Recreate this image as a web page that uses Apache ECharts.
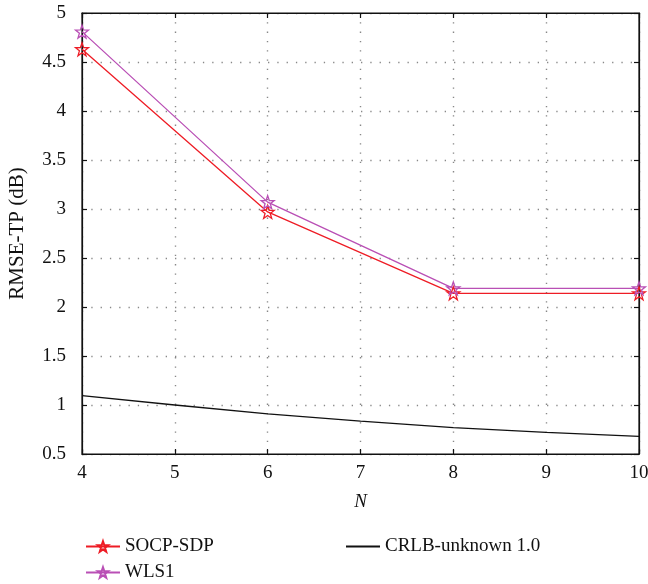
<!DOCTYPE html>
<html><head><meta charset="utf-8">
<script src="https://cdn.jsdelivr.net/npm/echarts@6/dist/echarts.min.js"></script>
<style>html,body{margin:0;padding:0;background:#fff}#c{width:648px;height:584px}</style>
</head><body><div id="c"></div>
<script>
const xSOCP = [4, 6, 8, 10];
const ySOCP = [4.63, 2.97, 2.14, 2.14];
const xWLS = [4, 6, 8, 10];
const yWLS = [4.81, 3.07, 2.19, 2.19];
const xCRLB = [4, 5, 6, 7, 8, 9, 10];
const yCRLB = [1.095, 1.0, 0.91, 0.835, 0.77, 0.72, 0.68];
const seriesNames = ['SOCP-SDP', 'WLS1', 'CRLB-unknown 1.0'];
const font = '"Liberation Serif", "DejaVu Serif", serif';
const pair = (xs, ys) => xs.map((x, i) => [x, ys[i]]);
const star = 'path://M0,-10 L2.35,-3.24 L9.51,-3.09 L3.8,1.24 L5.88,8.09 L0,4 L-5.88,8.09 L-3.8,1.24 L-9.51,-3.09 L-2.35,-3.24 Z';
const chart = echarts.init(document.getElementById('c'));
const gridLine = {show: true, lineStyle: {color: '#888', type: [1.3, 8], width: 1.4}};
const tick = {show: true, inside: true, length: 5, lineStyle: {color: '#111', width: 1.2}};
const legendBase = (item, left, top) => ({
  data: [item], left: left, top: top, itemWidth: 34, itemHeight: 13,
  textStyle: {fontFamily: font, fontSize: 19, color: '#111'}
});
chart.setOption({
  animation: false,
  textStyle: {fontFamily: font},
  grid: {left: 82, right: 9, top: 13, bottom: 130, show: true, borderColor: '#111', borderWidth: 1.2,
         containLabel: false, outerBoundsMode: 'none'},
  xAxis: [{
    type: 'value', min: 4, max: 10, interval: 1,
    name: 'N', nameLocation: 'middle', nameGap: 38,
    nameTextStyle: {fontFamily: font, fontSize: 19, fontStyle: 'italic', color: '#111'},
    axisLine: {show: true, lineStyle: {color: '#111', width: 1.2}},
    axisTick: tick,
    axisLabel: {fontFamily: font, fontSize: 19, color: '#111', margin: 10},
    splitLine: gridLine
  }, {
    type: 'value', min: 4, max: 10, interval: 1, position: 'top',
    axisLine: {show: true, lineStyle: {color: '#111', width: 1.2}},
    axisTick: tick, axisLabel: {show: false}, splitLine: {show: false}
  }],
  yAxis: [{
    type: 'value', min: 0.5, max: 5, interval: 0.5,
    name: 'RMSE-TP (dB)', nameLocation: 'middle', nameGap: 54, nameRotate: 90,
    nameTextStyle: {fontFamily: font, fontSize: 21, color: '#111'},
    axisLine: {show: true, lineStyle: {color: '#111', width: 1.2}},
    axisTick: tick,
    axisLabel: {fontFamily: font, fontSize: 19, color: '#111', margin: 16},
    splitLine: gridLine
  }, {
    type: 'value', min: 0.5, max: 5, interval: 0.5, position: 'right',
    axisLine: {show: true, lineStyle: {color: '#111', width: 1.2}},
    axisTick: tick, axisLabel: {show: false}, splitLine: {show: false}
  }],
  legend: [
    legendBase(seriesNames[0], 80, 532),
    legendBase(seriesNames[1], 80, 558),
    legendBase({name: seriesNames[2], itemStyle: {opacity: 0}}, 340, 532)
  ],
  series: [{
    name: seriesNames[0], type: 'line', data: pair(xSOCP, ySOCP),
    symbol: star, symbolSize: 13, color: '#ee1c25',
    itemStyle: {color: 'rgba(255,255,255,0)', borderColor: '#ee1c25', borderWidth: 1.3},
    lineStyle: {color: '#ee1c25', width: 1.3}
  }, {
    name: seriesNames[1], type: 'line', data: pair(xWLS, yWLS),
    symbol: star, symbolSize: 13, color: '#b94fb5',
    itemStyle: {color: 'rgba(255,255,255,0)', borderColor: '#b94fb5', borderWidth: 1.3},
    lineStyle: {color: '#b94fb5', width: 1.3}
  }, {
    name: seriesNames[2], type: 'line', data: pair(xCRLB, yCRLB),
    symbol: 'none', color: '#111',
    lineStyle: {color: '#111', width: 1.3}
  }]
});
</script></body></html>
